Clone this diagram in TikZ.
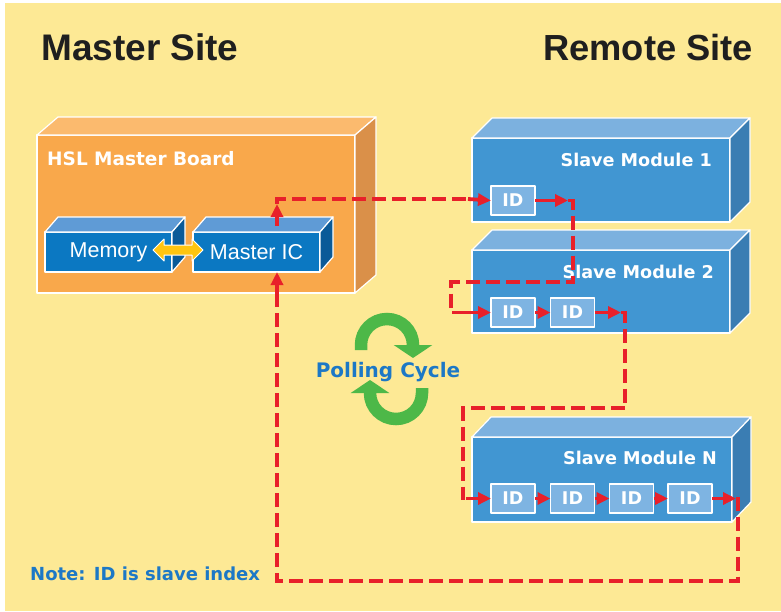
\documentclass[tikz,border=0pt]{standalone}
\usepackage{fontspec}
\setmainfont{Liberation Sans}
\newfontfamily\vfont{DejaVu Sans}
\usetikzlibrary{arrows.meta}
\definecolor{bgyellow}{HTML}{FDE995}
\definecolor{orfront}{HTML}{F9A84B}
\definecolor{ortop}{HTML}{FBBA6E}
\definecolor{orside}{HTML}{DA9049}
\definecolor{slfront}{HTML}{4196D2}
\definecolor{sltop}{HTML}{7CB1DF}
\definecolor{slside}{HTML}{3A7DB3}
\definecolor{icfront}{HTML}{0B78C2}
\definecolor{ictop}{HTML}{5F9BD6}
\definecolor{icside}{HTML}{0A5A98}
\definecolor{idblue}{HTML}{7EB4E2}
\definecolor{arrred}{HTML}{E8202A}
\definecolor{dblarrow}{HTML}{FFC510}
\definecolor{cyclegreen}{HTML}{4DB848}
\definecolor{textblue}{HTML}{1C78C6}
\newcommand\mkcube[5]{%
  \filldraw[face, fill=#4] (#1.north west) -- ++(#2,-#3) -- ([shift={(#2,-#3)}]#1.north east) -- (#1.north east) -- cycle;
  \filldraw[face, fill=#5] (#1.north east) -- ++(#2,-#3) -- ([shift={(#2,-#3)}]#1.south east) -- (#1.south east) -- cycle;
}
\tikzset{
  face/.style={draw=white, line width=1.2pt, line join=round},
  front/.style={face, rectangle, inner sep=0pt, outer sep=0pt},
  idbox/.style={front, fill=idblue, minimum width=44pt, minimum height=29pt,
    font=\vfont\bfseries\fontsize{17.5}{17}\selectfont, text=white},
  slavelabel/.style={anchor=base east, text=white, inner sep=0pt,
    font=\vfont\bfseries\fontsize{17.6}{18}\selectfont},
  reddash/.style={draw=arrred, line width=3.8pt, dash pattern=on 14pt off 6pt},
  redsolid/.style={draw=arrred, line width=3.8pt, -{Triangle[length=13pt,width=12pt]}},
  cyclearrow/.style={draw=cyclegreen, line width=12.5pt, -{Triangle[length=13pt,width=38pt]}},
}
\begin{document}
\begin{tikzpicture}[x=1pt,y=-1pt]
\useasboundingbox (0,0) rectangle (781,611);
\fill[white] (0,0) rectangle (781,611);
\fill[bgyellow] (5,3) rectangle (781,611);

% titles
\node[anchor=base west, inner sep=0pt, font=\bfseries\fontsize{37}{40}\selectfont, text=black!88] (mtitle) at (41,60) {Master Site};
\node[anchor=base west, inner sep=0pt, font=\bfseries\fontsize{36.3}{40}\selectfont, text=black!88] (rtitle) at (543,60) {Remote Site};

% master board
\node[front, fill=orfront, minimum width=318pt, minimum height=158pt] (board) at (196,214) {};
\mkcube{board}{21}{18}{ortop}{orside}
\node[anchor=base west, inner sep=0pt, text=white, font=\vfont\bfseries\fontsize{18.5}{20}\selectfont] (boardlbl) at (47,165) {HSL Master Board};

% memory and master IC
\node[front, fill=icfront, minimum width=127pt, minimum height=40pt, text=white, font=\fontsize{21.5}{22}\selectfont] (mem) at (108.5,252) {Memory};
\mkcube{mem}{13}{15}{ictop}{icside}
\node[front, fill=icfront, minimum width=127pt, minimum height=40pt, text=white, font=\fontsize{21.5}{22}\selectfont] (ic) at (256.5,252) {Master IC};
\mkcube{ic}{13}{15}{ictop}{icside}

% double arrow
\filldraw[fill=dblarrow, draw=white, line width=1pt, line join=round]
  (153,250) -- (164,239) -- (164,245) -- (192,245) -- (192,239) -- (203,250)
  -- (192,261) -- (192,255) -- (164,255) -- (164,261) -- cycle;

% slave modules
\node[front, fill=slfront, minimum width=258pt, minimum height=84pt] (s1) at (601,180) {};
\mkcube{s1}{20}{20}{sltop}{slside}
\node[slavelabel] (s1lbl) at (712,166) {Slave Module 1};
\node[idbox] (a1) at (513,200.5) {ID};

\node[front, fill=slfront, minimum width=258pt, minimum height=83pt] (s2) at (601,291.5) {};
\mkcube{s2}{20}{20}{sltop}{slside}
\node[slavelabel] (s2lbl) at (714,278) {Slave Module 2};
\node[idbox] (b1) at (513,312.5) {ID};
\node[idbox] (b2) at (572.5,312.5) {ID};

\node[front, fill=slfront, minimum width=260pt, minimum height=85pt] (sn) at (602,479.5) {};
\mkcube{sn}{19}{20}{sltop}{slside}
\node[slavelabel] (snlbl) at (717,464) {Slave Module N};
\node[idbox] (c1) at (513,498.5) {ID};
\node[idbox] (c2) at (572.5,498.5) {ID};
\node[idbox] (c3) at (631.5,498.5) {ID};
\node[idbox] (c4) at (690,498.5) {ID};

% polling cycle
\draw[cyclearrow] (361,350) -- (361,345) arc[start angle=180, end angle=360, radius=26] -- ++(0,13);
\draw[cyclearrow] (422,388) -- (422,393) arc[start angle=0, end angle=180, radius=26] -- ++(0,-13);
\node[anchor=base, inner sep=0pt, text=textblue, font=\vfont\bfseries\fontsize{20}{20}\selectfont] (poll) at (388,377) {Polling Cycle};

% red polling path
\coordinate (p0) at (277,226);
\coordinate (p1) at (277,204);
\coordinate (q1) at (568,200.5);
\coordinate (q2) at (460,312.5);
\coordinate (r1) at (621,312.5);
\coordinate (r2) at (466,498.5);
\coordinate (t1) at (736,498.5);
\coordinate (t2) at (277,300);

\draw[redsolid] (p0) -- (p1);
\draw[reddash] (p1) -- (277,199) -- (468,199);
\draw[redsolid] (468,199) -- (a1.west);
\draw[redsolid] (a1.east) -- (q1);
\draw[reddash] (q1) -- (573,200.5) -- (573,282) -- (451,282) -- (451,312.5) -- (q2);
\draw[redsolid] (q2) -- (b1.west);
\draw[redsolid] (b1.east) -- (b2.west);
\draw[redsolid] (b2.east) -- (r1);
\draw[reddash] (r1) -- (625,312.5) -- (625,408) -- (463,408) -- (463,498.5) -- (r2);
\draw[redsolid] (r2) -- (c1.west);
\draw[redsolid] (c1.east) -- (c2.west);
\draw[redsolid] (c2.east) -- (c3.west);
\draw[redsolid] (c3.east) -- (c4.west);
\draw[redsolid] (c4.east) -- (t1);
\draw[reddash] (t1) -- (738,498.5) -- (738,581) -- (277,581) -- (t2);
\draw[redsolid] (t2) -- (ic.south -| p0);

% note
\node[anchor=base west, inner sep=0pt, text=textblue, font=\vfont\bfseries\fontsize{18}{20}\selectfont] (note) at (30,580) {Note: ID is slave index};
\end{tikzpicture}
\end{document}
